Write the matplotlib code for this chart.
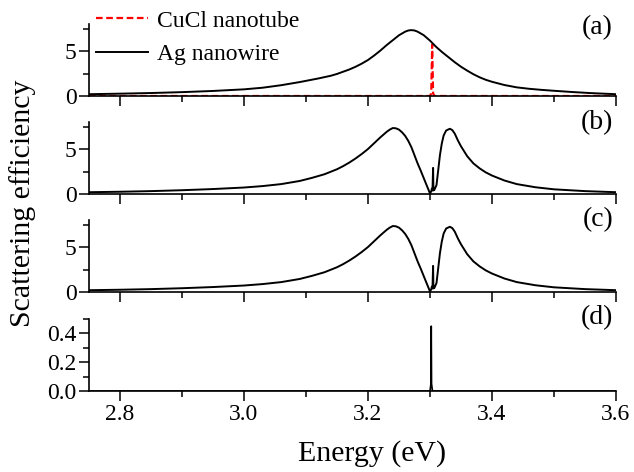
import numpy as np
import matplotlib
matplotlib.use("Agg")
import matplotlib.pyplot as plt
from matplotlib.ticker import MultipleLocator

plt.rcParams['font.family'] = ['Liberation Serif', 'DejaVu Serif']

# ---------------------------
# data
# ---------------------------

# (a) bare Ag nanowire
e_ag = [2.75, 2.80, 2.85, 2.90, 2.95, 3.00, 3.03, 3.06, 3.09, 3.12, 3.14, 3.15,
        3.16, 3.17, 3.18, 3.19, 3.20, 3.21, 3.22, 3.23, 3.24, 3.25, 3.26, 3.265,
        3.27, 3.275, 3.28, 3.29, 3.30, 3.31, 3.32, 3.33, 3.34, 3.35, 3.36, 3.37,
        3.38, 3.39, 3.40, 3.42, 3.44, 3.46, 3.48, 3.50, 3.53, 3.56, 3.60]
q_ag = [0.20, 0.26, 0.33, 0.43, 0.56, 0.74, 0.92, 1.20, 1.55, 1.95, 2.25, 2.45,
        2.70, 2.95, 3.25, 3.60, 4.00, 4.50, 5.05, 5.65, 6.20, 6.75, 7.15, 7.28,
        7.32, 7.28, 7.15, 6.75, 6.15, 5.45, 4.85, 4.30, 3.75, 3.25, 2.82, 2.42,
        2.08, 1.80, 1.58, 1.22, 0.96, 0.80, 0.68, 0.58, 0.44, 0.32, 0.20]

# (a) bare CuCl nanotube
e_cucl = [2.75, 3.300, 3.302, 3.3035, 3.305, 3.307, 3.60]
q_cucl = [0.0, 0.0, 0.3, 5.7, 0.3, 0.0, 0.0]

# (b) coupled system
e_b = [2.75, 2.80, 2.85, 2.90, 2.95, 3.00, 3.03, 3.06, 3.09, 3.11, 3.13, 3.15,
       3.16, 3.17, 3.18, 3.19, 3.20, 3.21, 3.22, 3.23, 3.235, 3.24, 3.245, 3.25,
       3.255, 3.26, 3.265, 3.27, 3.275, 3.28, 3.285, 3.29, 3.295, 3.298, 3.300,
       3.302, 3.303, 3.304, 3.305, 3.3055, 3.307, 3.3105, 3.313, 3.316, 3.319,
       3.322, 3.326, 3.332, 3.336, 3.34, 3.345, 3.35, 3.355, 3.36, 3.37, 3.38,
       3.39, 3.40, 3.42, 3.44, 3.47, 3.50, 3.55, 3.60]
q_b = [0.20, 0.25, 0.32, 0.42, 0.55, 0.72, 0.88, 1.10, 1.45, 1.80, 2.20, 2.75,
       3.10, 3.50, 3.95, 4.45, 5.00, 5.65, 6.30, 6.90, 7.15, 7.33, 7.30, 7.15,
       6.85, 6.45, 5.90, 5.20, 4.30, 3.40, 2.60, 1.75, 0.90, 0.40, 0.05,
       0.30, 0.60, 0.40, 2.90, 0.40, 0.45, 1.00, 2.50, 4.30, 5.60,
       6.50, 7.05, 7.25, 7.10, 6.70, 5.95, 5.30, 4.75, 4.20, 3.40, 2.85,
       2.40, 2.05, 1.50, 1.10, 0.75, 0.52, 0.32, 0.20]

# (c) coupled system, second case
e_c = list(e_b)
q_c = [0.20, 0.25, 0.32, 0.42, 0.55, 0.72, 0.88, 1.10, 1.45, 1.80, 2.20, 2.75,
       3.10, 3.50, 3.95, 4.45, 5.00, 5.65, 6.30, 6.90, 7.15, 7.33, 7.30, 7.15,
       6.85, 6.45, 5.90, 5.20, 4.30, 3.40, 2.60, 1.75, 0.90, 0.40, 0.05,
       0.30, 0.60, 0.40, 2.90, 0.40, 0.45, 1.00, 2.50, 4.30, 5.60,
       6.50, 7.05, 7.25, 7.10, 6.70, 5.95, 5.30, 4.75, 4.20, 3.40, 2.85,
       2.40, 2.05, 1.50, 1.10, 0.75, 0.52, 0.32, 0.20]

# (d) difference
e_d = [2.75, 3.300, 3.3015, 3.302, 3.3025, 3.304, 3.60]
q_d = [0.0, 0.0, 0.05, 0.45, 0.05, 0.0, 0.0]

panel_labels = ['(a)', '(b)', '(c)', '(d)']

# ---------------------------
# layout (pixels of a 634x472 figure)
# ---------------------------
W, H = 634., 472.
fig = plt.figure(figsize=(6.34, 4.72), dpi=100)

left = 89 / W
width = (616 - 89) / W
height = 72 / H
bottoms = [96, 194, 292, 391]   # pixel row of the zero line
label_y = [28, 123, 220, 318]

axes = []
for i, b in enumerate(bottoms):
    ax = fig.add_axes([left, 1 - b / H, width, height])
    axes.append(ax)

black = dict(color='k', lw=1.4)

axes[0].plot(e_cucl, q_cucl, color='#ff0000', lw=1.6, ls=(0, (3, 1.6)),
             label='CuCl nanotube', zorder=2)
axes[0].plot(e_ag, q_ag, label='Ag nanowire', zorder=3, **black)
axes[1].plot(e_b, q_b, **black)
axes[2].plot(e_c, q_c, **black)
axes[3].plot(e_d, q_d, color='k', lw=1.2)

for i, ax in enumerate(axes):
    ax.set_xlim(2.75, 3.6)
    ax.spines['top'].set_visible(False)
    ax.spines['right'].set_visible(False)
    for s in ('left', 'bottom'):
        ax.spines[s].set_linewidth(1.2)
    ax.xaxis.set_major_locator(MultipleLocator(0.2))
    ax.xaxis.set_minor_locator(MultipleLocator(0.1))
    ax.tick_params(which='major', direction='out', length=7, width=1.1,
                   labelsize=17, pad=2)
    ax.tick_params(which='minor', direction='out', length=4, width=1.1)
    if i < 3:
        ax.set_ylim(0, 8)
        ax.yaxis.set_major_locator(MultipleLocator(5))
        ax.yaxis.set_minor_locator(MultipleLocator(2.5))
        ax.tick_params(axis='x', labelbottom=False)
    else:
        ax.set_ylim(0, 0.5)
        ax.yaxis.set_major_locator(MultipleLocator(0.2))
        ax.yaxis.set_minor_locator(MultipleLocator(0.1))
    ax.patch.set_alpha(0)
    fig.text(613 / W, 1 - label_y[i] / H, panel_labels[i], fontsize=20,
             ha='right', va='center')

axes[3].yaxis.set_major_formatter(plt.FuncFormatter(lambda v, p: '%.1f' % v))

leg = axes[0].legend(loc='upper left', bbox_to_anchor=(96 / W, 1 - 10 / H),
                     bbox_transform=fig.transFigure, frameon=False,
                     fontsize=17, handlelength=2.2, handletextpad=0.4,
                     labelspacing=0.5, borderpad=0, borderaxespad=0)

fig.text(23 / W, 1 - 203 / H, 'Scattering efficiency', fontsize=21.5,
         rotation=90, ha='center', va='center')
fig.text(372 / W, 1 - 454 / H, 'Energy (eV)', fontsize=21.5,
         ha='center', va='center')

fig.savefig('out.png', dpi=100)
